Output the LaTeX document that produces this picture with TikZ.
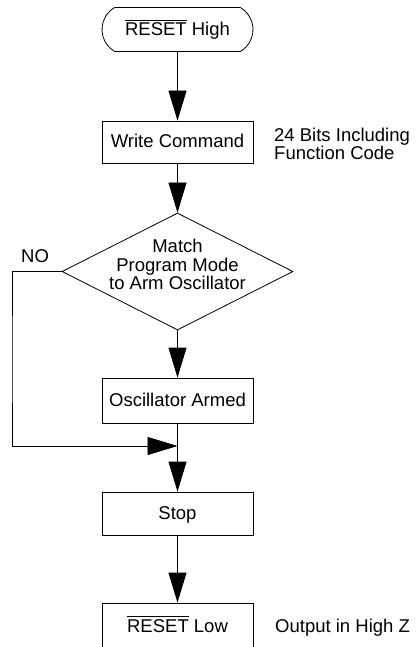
\documentclass[tikz,border=0pt]{standalone}
\usepackage{fontspec}
\setmainfont{Liberation Sans}
\usetikzlibrary{arrows.meta,shapes.geometric,shapes.misc}
\newcommand\barred[1]{\leavevmode\vbox{\hrule height 0.9pt\kern 2pt\hbox{#1}}}
\tikzset{
  base/.style={font=\fontsize{18.5}{18}\selectfont, line width=0.8pt},
  box/.style={base, draw, rectangle, minimum width=151pt, inner sep=0pt,
    text height=12pt, text depth=0pt},
  term/.style={base, draw, rounded rectangle, rounded rectangle arc length=120,
    minimum width=151pt, minimum height=44pt, inner sep=0pt,
    text height=12pt, text depth=0pt},
  dia/.style={base, draw, diamond, minimum width=231pt, minimum height=117pt, inner sep=0pt},
  lbl/.style={font=\fontsize{18.5}{18.5}\selectfont, inner sep=0pt},
  arr/.style={line width=0.8pt, -{Triangle[length=30pt,width=18pt]}},
  ln/.style={line width=0.8pt}
}
\begin{document}
\begin{tikzpicture}[x=1pt,y=-1pt]
\useasboundingbox (0,0) rectangle (415,647);
\node[term] (start) at (177.5,29.5) {\barred{RESET} High};
\node[box, minimum height=42pt] (write) at (177.5,142) {Write Command};
\node[lbl, anchor=north west, align=left] (note1) at (274,127.5) {24 Bits Including\\Function Code};
\node[dia] (match) at (177.5,271.5) {};
\node[lbl, align=center, yshift=7pt] (matchtxt) at (match.center) {Match\\Program Mode\\to Arm Oscillator};
\node[lbl, anchor=base west] (no) at (21,262) {NO};
\node[box, minimum height=45pt] (armed) at (177.5,400.5) {Oscillator Armed};
\coordinate (join) at (177.5,446);
\coordinate (noleft) at (12,360);
\node[box, minimum height=43pt] (stop) at (177.5,513.5) {Stop};
\node[box, minimum height=46pt] (low) at (177.5,626) {\barred{RESET} Low};
\node[lbl, anchor=base west] (note2) at (275,632) {Output in High Z};
\draw[arr] (start) -- (write);
\draw[arr] (write) -- (match);
\draw[arr] (match) -- (armed);
\draw[arr] (armed) -- (stop);
\draw[arr] (match.west) -| (noleft) |- (join);
\draw[arr] (stop) -- (low);
\end{tikzpicture}
\end{document}
